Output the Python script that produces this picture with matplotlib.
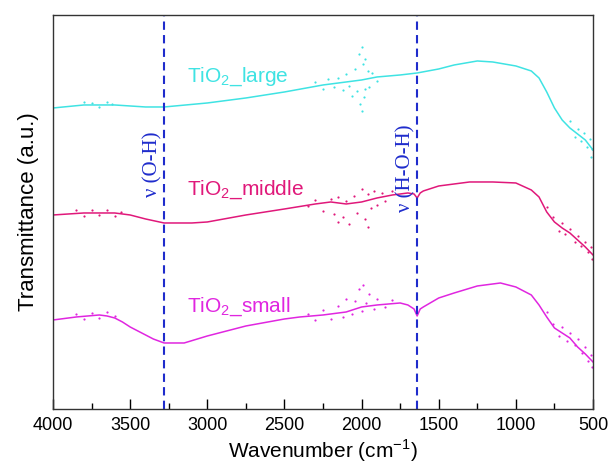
import matplotlib
matplotlib.use("Agg")
import matplotlib.pyplot as plt
import numpy as np

plt.rcParams['font.family'] = ['Liberation Sans', 'DejaVu Sans']
plt.rcParams['mathtext.fontset'] = 'custom'
plt.rcParams['mathtext.rm'] = 'Liberation Sans'

# FTIR spectra, transmittance in arbitrary units (curves offset for clarity)
wn_large = [4000, 3800, 3600, 3400, 3280, 3000, 2750, 2500, 2250, 2100, 2000, 1900,
            1750, 1640, 1500, 1400, 1250, 1150, 1000, 900, 850, 800, 750, 700, 650,
            600, 550, 500]
t_large = [3.01, 3.04, 3.04, 3.02, 3.02, 3.06, 3.11, 3.17, 3.24, 3.27, 3.29, 3.32,
           3.34, 3.36, 3.40, 3.44, 3.48, 3.47, 3.43, 3.38, 3.31, 3.17, 3.01, 2.89, 2.81,
           2.75, 2.69, 2.59]

wn_middle = [4000, 3800, 3600, 3500, 3400, 3280, 3100, 3000, 2750, 2500, 2300, 2200,
             2100, 2000, 1900, 1800, 1700, 1660, 1640, 1620, 1600, 1500, 1300, 1150,
             1000, 900, 850, 800, 750, 700, 650, 600, 550, 500]
t_middle = [1.94, 1.96, 1.96, 1.94, 1.90, 1.86, 1.86, 1.87, 1.94, 2.00, 2.05, 2.07,
            2.05, 2.07, 2.11, 2.14, 2.16, 2.15, 2.11, 2.16, 2.18, 2.23, 2.27, 2.27,
            2.26, 2.19, 2.12, 1.97, 1.87, 1.81, 1.76, 1.69, 1.62, 1.54]

wn_small = [4000, 3850, 3700, 3650, 3600, 3550, 3500, 3450, 3400, 3350, 3280, 3220,
            3150, 3000, 2750, 2500, 2400, 2250, 2100, 2000, 1900, 1750, 1700, 1660,
            1640, 1620, 1600, 1500, 1400, 1250, 1100, 1000, 900, 850, 800, 750, 700,
            650, 600, 550, 500]
t_small = [0.89, 0.92, 0.94, 0.93, 0.91, 0.87, 0.82, 0.78, 0.74, 0.70, 0.66, 0.66,
           0.66, 0.73, 0.83, 0.90, 0.92, 0.94, 0.97, 1.02, 1.04, 1.06, 1.04, 1.00,
           0.93, 1.00, 1.02, 1.11, 1.16, 1.23, 1.26, 1.22, 1.14, 1.04, 0.92, 0.81, 0.76,
           0.71, 0.62, 0.55, 0.47]

# scattered noisy points (water vapour / CO2 region and low-wavenumber end)
nwn_large = [3800, 3750, 3700, 3650, 3620, 2300, 2250, 2220, 2180, 2150, 2120, 2100,
             2080, 2060, 2040, 2030, 2020, 2010, 2000, 1995, 1990, 1985, 1980, 1975,
             1960, 1950, 1930, 1900, 650, 620, 600, 580, 560, 540, 520, 510, 505]
nt_large = [3.07, 3.06, 3.02, 3.07, 3.05, 3.27, 3.20, 3.30, 3.22, 3.31, 3.19, 3.35,
            3.23, 3.13, 3.40, 3.18, 3.55, 3.05, 3.62, 2.98, 3.45, 3.12, 3.50, 3.20,
            3.38, 3.22, 3.36, 3.28, 2.88, 2.72, 2.80, 2.68, 2.76, 2.62, 2.70, 2.52, 2.60]

nwn_middle = [3850, 3800, 3750, 3700, 3650, 3600, 3560, 2350, 2300, 2250, 2200, 2180,
              2150, 2150, 2120, 2100, 2080, 2050, 2030, 2000, 1980, 1960, 1960, 1940,
              1920, 1900, 1870, 1850, 1800, 800, 760, 720, 700, 680, 650, 620, 600,
              580, 550, 530, 510, 505]
nt_middle = [1.99, 1.93, 1.99, 1.94, 1.99, 1.93, 1.97, 2.03, 2.09, 1.98, 2.10, 1.95,
             2.12, 1.87, 1.92, 2.08, 1.85, 2.13, 1.96, 2.20, 1.90, 2.15, 1.82, 2.01,
             2.18, 2.04, 2.16, 2.08, 2.18, 2.02, 1.92, 1.78, 1.86, 1.75, 1.80, 1.67,
             1.73, 1.63, 1.67, 1.57, 1.62, 1.50]

nwn_small = [3850, 3800, 3750, 3700, 3650, 3600, 2350, 2300, 2250, 2200, 2150, 2120,
             2100, 2060, 2040, 2020, 2000, 1990, 1970, 1950, 1920, 1900, 1850, 1800,
             800, 760, 720, 700, 670, 650, 620, 600, 570, 550, 530, 510, 505]
nt_small = [0.95, 0.90, 0.96, 0.91, 0.97, 0.93, 0.95, 0.89, 0.99, 0.90, 1.03, 0.92,
            1.10, 0.95, 1.08, 1.20, 0.98, 1.24, 1.06, 1.15, 1.00, 1.10, 1.02, 1.09,
            0.97, 0.85, 0.73, 0.82, 0.68, 0.76, 0.64, 0.70, 0.56, 0.62, 0.48, 0.54, 0.42]

c_large = '#3fe3e3'
c_middle = '#e0187a'
c_small = '#e026e0'
c_band = '#1f2ccc'

band_pos = [3280, 1640]
band_labels = [u'\u03bd (O-H)', u'\u03bd (H-O-H)']

fig = plt.figure(figsize=(6.13, 4.68), dpi=100)
ax = fig.add_axes([0.0865, 0.1261, 0.8809, 0.8419])

for wn, t, nwn, nt, c in [(wn_large, t_large, nwn_large, nt_large, c_large),
                          (wn_middle, t_middle, nwn_middle, nt_middle, c_middle),
                          (wn_small, t_small, nwn_small, nt_small, c_small)]:
    ax.plot(wn, t, color=c, lw=1.1)
    ax.scatter(nwn, nt, s=2.5, color=c, linewidths=0)

for p in band_pos:
    ax.axvline(p, color=c_band, lw=1.5, linestyle=(0, (4, 2.5)))

ax.text(3350, 2.45, band_labels[0], rotation=90, color=c_band, fontsize=15,
        family='Liberation Serif', ha='center', va='center')
ax.text(1715, 2.41, band_labels[1], rotation=90, color=c_band, fontsize=15,
        family='Liberation Serif', ha='center', va='center')

ax.text(3130, 3.27, r'TiO$_\mathregular{2}$_large', color=c_large, fontsize=15)
ax.text(3130, 2.14, r'TiO$_\mathregular{2}$_middle', color=c_middle, fontsize=15)
ax.text(3130, 0.97, r'TiO$_\mathregular{2}$_small', color=c_small, fontsize=15)

ax.set_xlim(4000, 500)
ax.set_ylim(0, 3.94)
ax.set_xticks(np.arange(4000, 499, -500))
ax.set_xticks(np.arange(3750, 500, -500), minor=True)
ax.set_yticks([])
ax.tick_params(axis='x', which='major', direction='in', length=7, width=1,
               labelsize=13, pad=6)
ax.tick_params(axis='x', which='minor', direction='in', length=4, width=1)
for s in ax.spines.values():
    s.set_color('#333333')
    s.set_linewidth(1)

ax.set_xlabel(r'Wavenumber (cm$^\mathregular{-1}$)', fontsize=15, labelpad=2)
ax.set_ylabel('Transmittance (a.u.)', fontsize=16, labelpad=10)

fig.savefig('out.png', dpi=100)
